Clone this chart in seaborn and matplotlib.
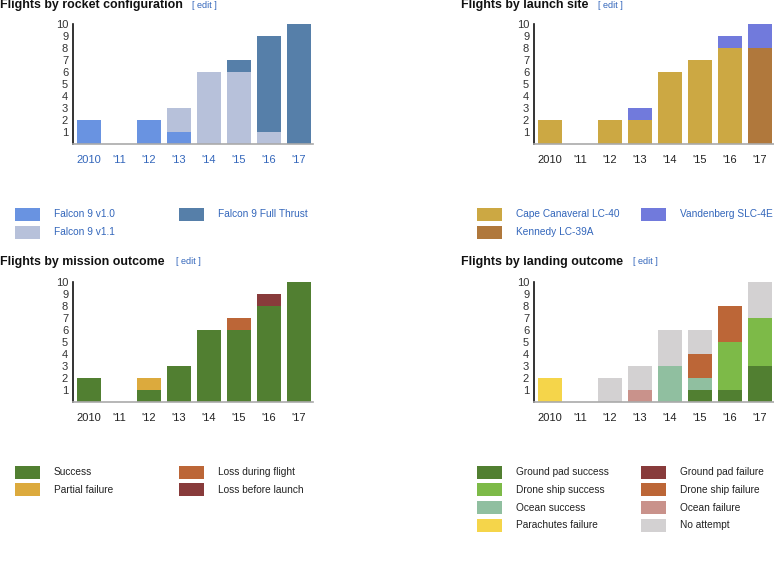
import numpy as np
import matplotlib.pyplot as plt
import seaborn as sns
from matplotlib.patches import Rectangle

sns.set_style("white")
plt.rcParams['font.family'] = ['Liberation Sans', 'DejaVu Sans']

W, H = 774, 580

years = ["2010", "'11", "'12", "'13", "'14", "'15", "'16", "'17"]

# rocket configuration
rocket_labels = ["Falcon 9 v1.0", "Falcon 9 v1.1", "Falcon 9 Full Thrust"]
rocket_colors = ["#6993e1", "#b7c1da", "#567fa9"]
rocket_v10 = [2, 0, 2, 1, 0, 0, 0, 0]
rocket_v11 = [0, 0, 0, 2, 6, 6, 1, 0]
rocket_ft = [0, 0, 0, 0, 0, 1, 8, 10]

# launch site
site_labels = ["Cape Canaveral LC-40", "Kennedy LC-39A", "Vandenberg SLC-4E"]
site_colors = ["#cca843", "#b0783c", "#717adc"]
site_cc = [2, 0, 2, 2, 6, 7, 8, 0]
site_ksc = [0, 0, 0, 0, 0, 0, 0, 8]
site_vafb = [0, 0, 0, 1, 0, 0, 1, 2]

# mission outcome
mission_labels = ["Success", "Partial failure", "Loss during flight", "Loss before launch"]
mission_colors = ["#517f31", "#dcaa3d", "#bc6637", "#883b3b"]
mission_success = [2, 0, 1, 3, 6, 6, 8, 10]
mission_partial = [0, 0, 1, 0, 0, 0, 0, 0]
mission_loss_flight = [0, 0, 0, 0, 0, 1, 0, 0]
mission_loss_launch = [0, 0, 0, 0, 0, 0, 1, 0]

# landing outcome
landing_labels = ["Ground pad success", "Drone ship success", "Ocean success",
                  "Parachutes failure", "Ground pad failure", "Drone ship failure",
                  "Ocean failure", "No attempt"]
landing_colors = ["#517f31", "#7dba48", "#90bfa0", "#f5d54a",
                  "#883b3b", "#bc6637", "#c9928b", "#d3d1d2"]
landing_gp_ok = [0, 0, 0, 0, 0, 1, 1, 3]
landing_ds_ok = [0, 0, 0, 0, 0, 0, 4, 4]
landing_ocean_ok = [0, 0, 0, 0, 3, 1, 0, 0]
landing_chute_fail = [2, 0, 0, 0, 0, 0, 0, 0]
landing_gp_fail = [0, 0, 0, 0, 0, 0, 0, 0]
landing_ds_fail = [0, 0, 0, 0, 0, 2, 3, 0]
landing_ocean_fail = [0, 0, 0, 1, 0, 0, 0, 0]
landing_none = [0, 0, 2, 2, 3, 2, 0, 3]

LINK = "#3366bb"
DARK = "#222222"

fig = plt.figure(figsize=(W / 100, H / 100), dpi=100)


def fx(px):
    return px / W


def fy(py):
    return 1 - py / H


def stacked_chart(x0, y_top, series, colors, title, edit_x, title_y, tick_color):
    ax = fig.add_axes([fx(x0), fy(y_top + 120), 240 / W, 120 / H])
    bottom = np.zeros(len(years))
    for vals, col in zip(series, colors):
        sns.barplot(x=years, y=vals, bottom=bottom, color=col, order=years,
                    width=0.8, saturation=1, ax=ax, linewidth=0)
        bottom = bottom + np.array(vals)
    ax.set_xlim(-0.533, 7.467)
    ax.set_ylim(0, 10)
    ax.set_yticks(range(1, 11))
    ax.set_xlabel('')
    ax.set_ylabel('')
    for s in ['top', 'right']:
        ax.spines[s].set_visible(False)
    ax.spines['left'].set_color('#111111')
    ax.spines['left'].set_linewidth(1.2)
    ax.spines['bottom'].set_color('#aaaaaa')
    ax.spines['bottom'].set_linewidth(1.2)
    ax.tick_params(axis='y', direction='inout', length=5, width=1.4, color='#111111',
                   labelsize=8, labelcolor='#333333', pad=1)
    ax.tick_params(axis='x', direction='out', length=5, width=1.2, color='#111111',
                   labelsize=8, labelcolor=tick_color, pad=3)
    fig.text(fx(x0 - 73), fy(title_y), title, fontsize=8.9, fontweight='bold',
             color='#111111', va='center', ha='left')
    fig.text(fx(edit_x), fy(title_y), "[ edit ]", fontsize=6.5, color=LINK,
             va='center', ha='left')
    return ax


def legend_block(x0, y0, dy, labels, colors, text_color):
    nrows = (len(labels) + 1) // 2
    for i, (lab, col) in enumerate(zip(labels, colors)):
        c, r = divmod(i, nrows)
        sx = x0 + c * 164
        sy = y0 + r * dy
        fig.patches.append(Rectangle((fx(sx), fy(sy + 6.5)), 25 / W, 13 / H,
                                     transform=fig.transFigure, facecolor=col,
                                     edgecolor='none'))
        fig.text(fx(sx + 39), fy(sy), lab, fontsize=7.3, color=text_color,
                 va='center', ha='left')


stacked_chart(73, 24, [rocket_v10, rocket_v11, rocket_ft], rocket_colors,
              "Flights by rocket configuration", 192, 5, LINK)
stacked_chart(534, 24, [site_cc, site_ksc, site_vafb], site_colors,
              "Flights by launch site", 598, 5, DARK)
stacked_chart(73, 282, [mission_success, mission_partial, mission_loss_flight,
                        mission_loss_launch], mission_colors,
              "Flights by mission outcome", 176, 262, DARK)
stacked_chart(534, 282, [landing_gp_ok, landing_ds_ok, landing_ocean_ok, landing_chute_fail,
                         landing_gp_fail, landing_ds_fail, landing_ocean_fail, landing_none],
              landing_colors, "Flights by landing outcome", 633, 262, DARK)

legend_block(15, 214, 18, rocket_labels, rocket_colors, LINK)
legend_block(477, 214, 18, site_labels, site_colors, LINK)
legend_block(15, 472, 17.8, mission_labels, mission_colors, DARK)
legend_block(477, 472, 17.8, landing_labels, landing_colors, DARK)

fig.savefig("out.png", dpi=100)
